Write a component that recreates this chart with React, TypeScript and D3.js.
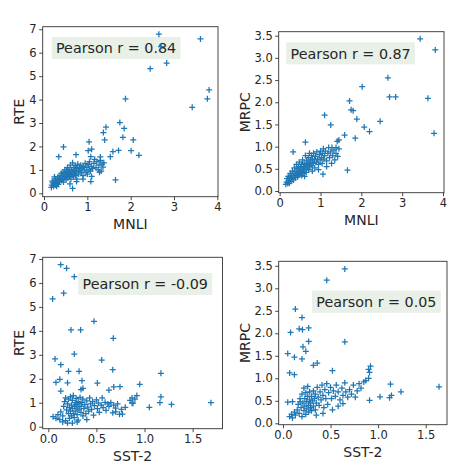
import React, { useEffect, useRef } from "react";
import * as d3 from "d3";

// ---------- data ----------
const mnliRte: [number, number][] = [
  [2.65, 6.79], [2.7, 6.26], [3.61, 6.59], [2.45, 5.32], [2.83, 5.56], [3.81, 4.41], [3.77, 4.03], [3.42, 3.67],
  [1.88, 4.03], [1.75, 3.02], [1.43, 2.82], [1.85, 2.77], [1.37, 2.59], [1.82, 2.39], [1.4, 2.28], [2.06, 2.28],
  [1.04, 2.2], [0.45, 1.98], [1.1, 1.88], [1.02, 1.82], [1.72, 1.83], [2.01, 1.82], [1.59, 1.78], [0.34, 1.56],
  [1.53, 1.56], [2.19, 1.62], [0.74, 1.65], [1.08, 1.56], [1.65, 0.57], [0.66, 0.21], [1.08, 0.5],
  [0.17, 0.25], [0.18, 0.35], [0.2, 0.45], [0.19, 0.52], [0.22, 0.3], [0.23, 0.4], [0.25, 0.55], [0.26, 0.35],
  [0.28, 0.48], [0.27, 0.62], [0.3, 0.42], [0.31, 0.55], [0.32, 0.7], [0.33, 0.38], [0.35, 0.6], [0.36, 0.5],
  [0.37, 0.75], [0.38, 0.65], [0.4, 0.55], [0.4, 0.85], [0.42, 0.7], [0.43, 0.6], [0.44, 0.9], [0.45, 0.48],
  [0.46, 0.78], [0.47, 0.66], [0.48, 1.0], [0.5, 0.72], [0.5, 0.85], [0.51, 0.58], [0.52, 0.95], [0.53, 0.78],
  [0.54, 1.1], [0.55, 0.66], [0.56, 0.88], [0.57, 0.8], [0.58, 1.02], [0.59, 0.72], [0.6, 0.92], [0.61, 1.2],
  [0.62, 0.6], [0.63, 0.85], [0.64, 1.0], [0.65, 0.78], [0.66, 1.3], [0.67, 0.92], [0.68, 0.7], [0.69, 1.1],
  [0.7, 0.85], [0.71, 0.98], [0.72, 1.18], [0.73, 0.76], [0.74, 0.9], [0.75, 1.05], [0.76, 0.6], [0.78, 1.25],
  [0.79, 0.95], [0.8, 0.82], [0.82, 1.1], [0.83, 0.98], [0.85, 1.2], [0.86, 0.88], [0.88, 1.05], [0.9, 0.75],
  [0.91, 1.15], [0.93, 1.0], [0.95, 1.28], [0.97, 0.9], [0.99, 1.1], [1.0, 0.82], [1.02, 1.22], [1.04, 1.0],
  [1.05, 1.35], [1.07, 0.95], [1.09, 1.15], [1.1, 0.72], [1.12, 1.05], [1.15, 1.28], [1.17, 1.45], [1.2, 1.1],
  [1.22, 1.35], [1.25, 1.0], [1.27, 1.2], [1.3, 1.4], [1.32, 0.95], [1.34, 1.25], [1.36, 1.12], [1.38, 1.3],
  [1.28, 0.9], [1.3, 1.55], [0.6, 0.4], [0.75, 0.5], [0.9, 0.6], [0.24, 0.7], [0.29, 0.3],
];

const mnliMrpc: [number, number][] = [
  [3.44, 3.43], [3.81, 3.18], [2.65, 2.55], [2.02, 2.35], [2.69, 2.12], [2.84, 2.12], [3.63, 2.09], [1.71, 2.03],
  [1.75, 1.83], [1.8, 1.81], [1.1, 1.71], [1.89, 1.62], [1.25, 1.49], [2.46, 1.57], [2.07, 1.44], [2.2, 1.34],
  [3.78, 1.3], [1.59, 1.26], [1.85, 1.19], [1.41, 1.12], [1.45, 1.15], [0.63, 1.1], [0.33, 0.88], [1.66, 0.47],
  [1.28, 0.98], [1.38, 0.98], [1.06, 0.38],
  [0.15, 0.15], [0.17, 0.2], [0.18, 0.28], [0.2, 0.17], [0.21, 0.33], [0.22, 0.24], [0.24, 0.18], [0.25, 0.3],
  [0.26, 0.4], [0.28, 0.22], [0.29, 0.35], [0.3, 0.28], [0.31, 0.45], [0.33, 0.32], [0.34, 0.25], [0.35, 0.4],
  [0.36, 0.52], [0.38, 0.35], [0.39, 0.3], [0.4, 0.45], [0.41, 0.6], [0.42, 0.38], [0.43, 0.5], [0.44, 0.32],
  [0.45, 0.42], [0.46, 0.55], [0.47, 0.36], [0.48, 0.65], [0.49, 0.45], [0.5, 0.38], [0.51, 0.52], [0.52, 0.42],
  [0.53, 0.6], [0.54, 0.35], [0.55, 0.48], [0.56, 0.7], [0.57, 0.4], [0.58, 0.55], [0.59, 0.45], [0.6, 0.62],
  [0.61, 0.33], [0.62, 0.5], [0.63, 0.8], [0.64, 0.58], [0.65, 0.42], [0.66, 0.68], [0.67, 0.52], [0.68, 0.6],
  [0.7, 0.75], [0.71, 0.48], [0.72, 0.62], [0.73, 0.85], [0.74, 0.55], [0.75, 0.7], [0.76, 0.65], [0.78, 0.8],
  [0.79, 0.58], [0.8, 0.72], [0.82, 0.62], [0.83, 0.85], [0.85, 0.7], [0.86, 0.52], [0.88, 0.78], [0.9, 0.65],
  [0.91, 0.88], [0.93, 0.72], [0.95, 0.6], [0.97, 0.82], [0.99, 0.7], [1.0, 0.9], [1.02, 0.75], [1.04, 0.62],
  [1.05, 0.85], [1.07, 0.95], [1.08, 0.72], [1.1, 0.8], [1.12, 0.9], [1.15, 0.68], [1.18, 0.85], [1.2, 0.98],
  [1.22, 0.75], [1.25, 0.88], [1.27, 0.62], [1.3, 0.8], [1.33, 0.92], [1.35, 0.7], [1.38, 0.85], [1.42, 0.78],
  [1.45, 0.95], [0.8, 0.45], [0.95, 0.48], [1.15, 0.55],
];

const sstRte: [number, number][] = [
  [0.129, 6.76], [0.19, 6.61], [0.27, 6.26], [0.16, 5.57], [0.045, 5.33], [0.475, 4.4], [0.236, 4.04], [0.336, 4.04],
  [0.675, 3.69], [0.27, 3.03], [0.07, 2.83], [0.555, 2.78], [0.13, 2.59], [0.21, 2.31], [0.32, 2.31], [0.67, 2.38],
  [1.17, 2.23], [0.12, 1.98], [0.08, 1.85], [0.35, 1.92], [0.2, 1.83], [0.51, 1.82], [0.95, 1.77], [0.13, 1.49],
  [0.36, 1.6], [0.34, 1.55], [0.63, 1.53], [0.68, 1.66], [0.745, 1.67], [1.69, 1.0], [1.28, 0.93], [1.17, 1.25],
  [1.16, 1.0], [1.05, 0.81], [0.87, 0.98], [0.8, 0.81], [0.77, 0.53], [0.7, 0.62], [0.05, 0.42],
  [0.08, 0.35], [0.1, 0.5], [0.12, 0.3], [0.13, 0.62], [0.15, 0.45], [0.16, 0.85], [0.17, 1.05], [0.18, 0.25],
  [0.18, 1.2], [0.19, 0.7], [0.2, 0.15], [0.2, 0.95], [0.21, 0.55], [0.21, 1.15], [0.22, 0.8], [0.22, 0.35],
  [0.23, 1.25], [0.23, 0.65], [0.24, 0.9], [0.24, 0.45], [0.25, 1.1], [0.25, 0.75], [0.26, 0.55], [0.26, 1.3],
  [0.27, 0.85], [0.27, 0.38], [0.28, 1.0], [0.28, 0.65], [0.29, 0.92], [0.29, 1.18], [0.3, 0.5], [0.3, 0.78],
  [0.31, 1.05], [0.31, 0.28], [0.32, 0.7], [0.32, 0.95], [0.33, 1.22], [0.34, 0.6], [0.34, 0.85], [0.35, 1.0],
  [0.36, 0.45], [0.36, 1.15], [0.37, 0.75], [0.38, 0.92], [0.39, 0.55], [0.4, 1.08], [0.41, 0.82], [0.42, 0.65],
  [0.43, 1.2], [0.44, 0.95], [0.45, 0.72], [0.46, 1.05], [0.47, 0.48], [0.48, 0.88], [0.5, 1.12], [0.51, 0.75],
  [0.52, 0.98], [0.53, 0.6], [0.55, 0.9], [0.56, 1.2], [0.57, 0.8], [0.59, 1.02], [0.6, 0.68], [0.62, 0.95],
  [0.63, 0.85], [0.65, 1.0], [0.67, 0.58], [0.68, 0.9], [0.7, 0.78], [0.72, 0.95], [0.74, 0.52], [0.76, 0.72],
  [0.85, 1.1], [0.87, 1.2], [0.88, 0.98], [0.9, 1.15], [0.92, 1.3], [0.3, 0.2], [0.4, 0.3], [0.25, 0.15],
  [0.15, 0.2],
];

const sstMrpc: [number, number][] = [
  [0.65, 3.43], [0.46, 3.18], [0.13, 2.54], [0.2, 2.35], [0.27, 2.12], [0.17, 2.1], [0.205, 2.08], [0.08, 2.02],
  [0.27, 1.82], [0.65, 1.81], [0.21, 1.7], [0.24, 1.6], [0.05, 1.55], [0.12, 1.47], [0.2, 1.43], [0.32, 1.29],
  [0.36, 1.34], [0.07, 1.12], [0.12, 1.08], [0.52, 1.17], [0.92, 1.27], [0.9, 1.2], [0.91, 1.13], [1.13, 0.87],
  [1.24, 0.7], [1.14, 0.62], [1.02, 0.59], [1.12, 0.57], [1.64, 0.81], [0.91, 0.51], [0.63, 0.44], [0.05, 0.47],
  [0.07, 0.15], [0.09, 0.2], [0.1, 0.12], [0.12, 0.25], [0.13, 0.18], [0.15, 0.3], [0.16, 0.42], [0.17, 0.22],
  [0.18, 0.55], [0.19, 0.35], [0.2, 0.15], [0.2, 0.65], [0.21, 0.45], [0.22, 0.28], [0.22, 0.78], [0.23, 0.38],
  [0.23, 0.55], [0.24, 0.2], [0.24, 0.68], [0.25, 0.48], [0.25, 0.32], [0.26, 0.6], [0.26, 0.82], [0.27, 0.4],
  [0.27, 0.25], [0.28, 0.52], [0.28, 0.7], [0.29, 0.35], [0.29, 0.45], [0.3, 0.6], [0.3, 0.28], [0.31, 0.5],
  [0.32, 0.72], [0.32, 0.38], [0.33, 0.55], [0.34, 0.65], [0.34, 0.3], [0.35, 0.45], [0.36, 0.8], [0.37, 0.58],
  [0.38, 0.4], [0.39, 0.7], [0.4, 0.52], [0.41, 0.85], [0.42, 0.62], [0.43, 0.35], [0.44, 0.75], [0.45, 0.55],
  [0.46, 0.88], [0.47, 0.42], [0.48, 0.68], [0.5, 0.8], [0.51, 0.55], [0.52, 0.3], [0.53, 0.72], [0.55, 0.6],
  [0.56, 0.85], [0.58, 0.7], [0.6, 0.52], [0.62, 0.78], [0.63, 0.62], [0.65, 0.9], [0.66, 0.7], [0.68, 0.58],
  [0.7, 0.75], [0.72, 0.65], [0.74, 0.85], [0.76, 0.58], [0.78, 0.72], [0.8, 0.88], [0.82, 0.78], [0.85, 0.92],
  [0.87, 0.95], [0.9, 1.0], [0.58, 0.38], [0.42, 0.22], [0.35, 0.18], [0.18, 0.48], [0.1, 0.48],
];

const xTicksMnli = [0, 1, 2, 3, 4];
const xTicksSst = [0, 0.5, 1.0, 1.5];
const yTicksRte = [0, 1, 2, 3, 4, 5, 6, 7];
const yTicksMrpc = [0, 0.5, 1.0, 1.5, 2.0, 2.5, 3.0, 3.5];
const pearsonLabels = ["Pearson r = 0.84", "Pearson r = 0.87", "Pearson r = -0.09", "Pearson r = 0.05"];

// ---------- layout ----------
const FONT = "DejaVu Sans, sans-serif";
const panels = [
  { data: mnliRte, xlab: "MNLI", ylab: "RTE", box: { l: 42.7, r: 218, t: 26.7, b: 196.7 }, xd: [-0.03, 4.015], yd: [-0.145, 7.11], xt: xTicksMnli, yt: yTicksRte, xf: "d", yf: "d", ann: { x: 51.7, cy: 48 }, ylx: 19 },
  { data: mnliMrpc, xlab: "MNLI", ylab: "MRPC", box: { l: 278.7, r: 444, t: 31.7, b: 192.7 }, xd: [-0.024, 4.024], yd: [-0.038, 3.59], xt: xTicksMnli, yt: yTicksMrpc, xf: "d", yf: ".1f", ann: { x: 286.3, cy: 53.3 }, ylx: 244.7 },
  { data: sstRte, xlab: "SST-2", ylab: "RTE", box: { l: 42.7, r: 222.5, t: 257.3, b: 428.7 }, xd: [-0.058, 1.81], yd: [-0.083, 7.07], xt: xTicksSst, yt: yTicksRte, xf: ".1f", yf: "d", ann: { x: 78.3, cy: 284 }, ylx: 19 },
  { data: sstMrpc, xlab: "SST-2", ylab: "MRPC", box: { l: 278.7, r: 447, t: 261.3, b: 424.7 }, xd: [-0.045, 1.724], yd: [-0.031, 3.6], xt: xTicksSst, yt: yTicksMrpc, xf: ".1f", yf: ".1f", ann: { x: 312, cy: 301.8 }, ylx: 244.7 },
];

export default function App() {
  const ref = useRef<SVGSVGElement | null>(null);

  useEffect(() => {
    const svg = d3.select(ref.current);
    svg.selectAll("*").remove();
    const textColor = "#262626";
    const axisColor = "#333";
    const blue = "#1f77b4";

    panels.forEach((p, i) => {
      const g = svg.append("g");
      const x = d3.scaleLinear().domain(p.xd).range([p.box.l, p.box.r]);
      const y = d3.scaleLinear().domain(p.yd).range([p.box.b, p.box.t]);

      // annotation box (behind points)
      const annG = g.append("g");
      const pad = 4.3;
      const fs = 14.3;
      const txt = annG
        .append("text")
        .attr("x", p.ann.x + pad)
        .attr("y", p.ann.cy + 5.2)
        .attr("font-family", FONT)
        .attr("font-size", fs)
        .attr("fill", textColor)
        .text(pearsonLabels[i]);
      const w = (txt.node() as SVGTextElement).getComputedTextLength();
      annG
        .insert("rect", "text")
        .attr("x", p.ann.x)
        .attr("y", p.ann.cy - 11)
        .attr("width", w + pad * 2)
        .attr("height", 22)
        .attr("fill", "#e9f0e7");

      // points as "+" markers
      const s = 3;
      g.append("g")
        .selectAll("path")
        .data(p.data)
        .join("path")
        .attr("d", (d) => {
          const cx = x(d[0]);
          const cy = y(d[1]);
          return `M${cx - s},${cy}H${cx + s}M${cx},${cy - s}V${cy + s}`;
        })
        .attr("stroke", blue)
        .attr("stroke-width", 1.25)
        .attr("fill", "none");

      // frame
      g.append("rect")
        .attr("x", p.box.l)
        .attr("y", p.box.t)
        .attr("width", p.box.r - p.box.l)
        .attr("height", p.box.b - p.box.t)
        .attr("fill", "none")
        .attr("stroke", axisColor)
        .attr("stroke-width", 0.9);

      // x axis
      const xa = d3.axisBottom(x).tickValues(p.xt).tickSize(3.5).tickPadding(2.5).tickFormat(d3.format(p.xf));
      const gx = g.append("g").attr("transform", `translate(0,${p.box.b})`).call(xa);
      gx.select(".domain").remove();
      gx.selectAll("line").attr("stroke", axisColor).attr("stroke-width", 0.9);
      gx.selectAll("text").attr("font-family", FONT).attr("font-size", 11.5).attr("fill", textColor);

      // y axis
      const ya = d3.axisLeft(y).tickValues(p.yt).tickSize(3.5).tickPadding(2.5).tickFormat(d3.format(p.yf));
      const gy = g.append("g").attr("transform", `translate(${p.box.l},0)`).call(ya);
      gy.select(".domain").remove();
      gy.selectAll("line").attr("stroke", axisColor).attr("stroke-width", 0.9);
      gy.selectAll("text").attr("font-family", FONT).attr("font-size", 11.5).attr("fill", textColor);

      // axis labels
      g.append("text")
        .attr("x", (p.box.l + p.box.r) / 2)
        .attr("y", p.box.b + 32.5)
        .attr("text-anchor", "middle")
        .attr("font-family", FONT)
        .attr("font-size", 14)
        .attr("fill", textColor)
        .text(p.xlab);
      g.append("text")
        .attr("transform", `translate(${p.ylx + 5},${(p.box.t + p.box.b) / 2}) rotate(-90)`)
        .attr("text-anchor", "middle")
        .attr("font-family", FONT)
        .attr("font-size", 14)
        .attr("fill", textColor)
        .text(p.ylab);
    });
  }, []);

  return (
    <svg
      ref={ref}
      width={466}
      height={468}
      style={{ position: "absolute", left: 0, top: 0, background: "#fff" }}
    />
  );
}
